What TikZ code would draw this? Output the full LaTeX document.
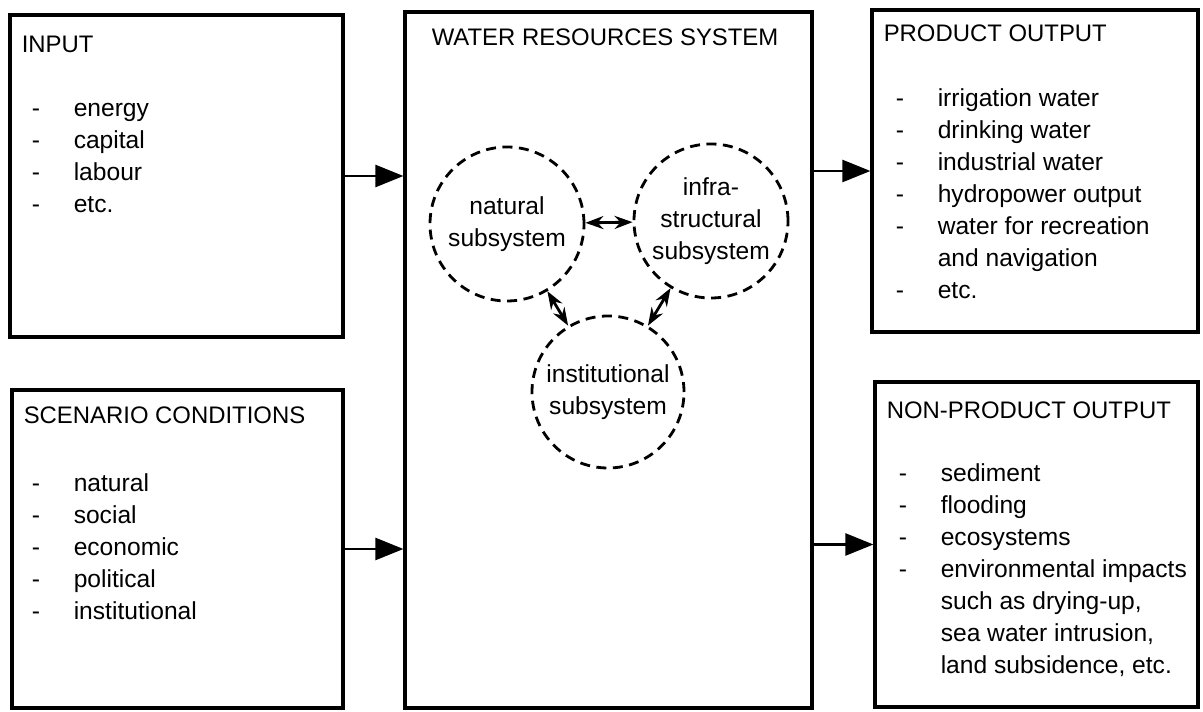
\documentclass[tikz,border=0pt]{standalone}
\usepackage{fontspec}
\setmainfont{Liberation Sans}
\usetikzlibrary{positioning,arrows.meta}
\newcommand{\itm}[1]{\strut\makebox[0.84cm][l]{-}#1}
\newcommand{\cont}[1]{\strut\hspace*{0.84cm}#1}

\begin{document}
\begin{tikzpicture}[
  font=\fontsize{14}{18.2}\selectfont,
  panel/.style={draw, line width=1.8pt, inner sep=0pt},
  head/.style={anchor=base west, inner sep=0pt, font=\fontsize{13.6}{18}\selectfont},
  list/.style={anchor=north west, inner sep=0pt, align=left},
  subsys/.style={circle, draw, line width=1.6pt, dash pattern=on 0.2cm off 0.13cm,
                 minimum size=3.08cm, inner sep=0pt, align=center},
  arr/.style={-{Triangle[length=0.56cm, width=0.44cm]}, line width=1.4pt},
  link/.style={{Stealth[length=0.36cm, width=0.26cm]}-{Stealth[length=0.36cm, width=0.26cm]}, line width=1.6pt}
]
\useasboundingbox (0,0) rectangle (24.06,-14.24);

% boxes
\node[panel, minimum width=6.66cm, minimum height=6.44cm] (input) at (3.53,-3.52) {};
\node[panel, minimum width=6.62cm, minimum height=6.36cm] (scen) at (3.55,-10.98) {};
\node[panel, minimum width=8.14cm, minimum height=13.92cm] (sys) at (12.17,-7.2) {};
\node[panel, minimum width=6.52cm, minimum height=6.44cm] (prod) at (20.70,-3.42) {};
\node[panel, minimum width=6.46cm, minimum height=6.5cm] (nonprod) at (20.73,-10.89) {};

% box texts
\node[head] (inputT) at ([xshift=0.26cm, yshift=-0.78cm]input.north west) {INPUT};
\node[list] (inputL) at ([xshift=0.46cm, yshift=-1.61cm]input.north west)
  {\itm{energy}\\ \itm{capital}\\ \itm{labour}\\ \itm{etc.}};

\node[head] (scenT) at ([xshift=0.26cm, yshift=-0.70cm]scen.north west) {SCENARIO CONDITIONS};
\node[list] (scenL) at ([xshift=0.42cm, yshift=-1.6cm]scen.north west)
  {\itm{natural}\\ \itm{social}\\ \itm{economic}\\ \itm{political}\\ \itm{institutional}};

\node[head] (sysT) at ([xshift=0.56cm, yshift=-0.70cm]sys.north west) {WATER RESOURCES SYSTEM};

\node[head] (prodT) at ([xshift=0.26cm, yshift=-0.66cm]prod.north west) {PRODUCT OUTPUT};
\node[list] (prodL) at ([xshift=0.5cm, yshift=-1.5cm]prod.north west)
  {\itm{irrigation water}\\ \itm{drinking water}\\ \itm{industrial water}\\
   \itm{hydropower output}\\ \itm{water for recreation}\\ \cont{and navigation}\\ \itm{etc.}};

\node[head] (nonprodT) at ([xshift=0.26cm, yshift=-0.76cm]nonprod.north west) {NON-PRODUCT OUTPUT};
\node[list] (nonprodL) at ([xshift=0.5cm, yshift=-1.57cm]nonprod.north west)
  {\itm{sediment}\\ \itm{flooding}\\ \itm{ecosystems}\\ \itm{environmental impacts}\\
   \cont{such as drying-up,}\\ \cont{sea water intrusion,}\\ \cont{land subsidence, etc.}};

% subsystems
\node[subsys] (natural) at (10.14,-4.48) {natural\\subsystem};
\node[subsys] (infra) at (14.22,-4.42) {infra-\\structural\\subsystem};
\node[subsys, minimum size=3.04cm] (inst) at (12.16,-7.84) {institutional\\subsystem};

\draw[link] (natural) -- (infra);
\draw[link] (natural) -- (inst);
\draw[link] (infra) -- (inst);

% flows
\draw[arr] (input.east) -- (input.east -| sys.west);
\draw[arr] (scen.east) -- (scen.east -| sys.west);
\draw[arr] (sys.east |- prod.west) -- (prod.west);
\draw[arr] (sys.east |- nonprod.west) -- (nonprod.west);

\end{tikzpicture}
\end{document}
